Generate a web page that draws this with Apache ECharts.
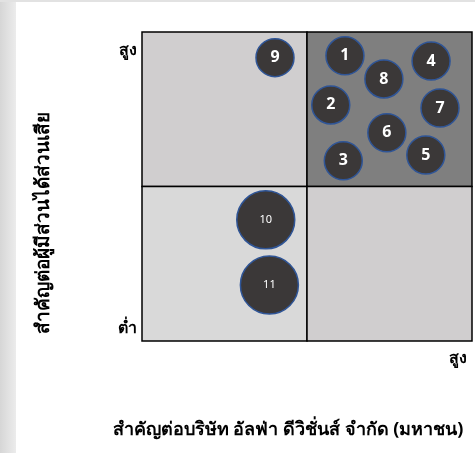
<!DOCTYPE html>
<html>
<head>
<meta charset="utf-8">
<script src="https://cdn.jsdelivr.net/npm/echarts@6/dist/echarts.min.js"></script>
<style>html,body{margin:0;padding:0;background:#fff;}#c{width:475px;height:453px;}</style>
</head>
<body>
<div id="c"></div>
<script>
const labels = ['1','2','3','4','5','6','7','8','9','10','11'];
const xValues = [6.15, 5.72, 6.10, 8.76, 8.60, 7.42, 9.03, 7.33, 4.03, 3.75, 3.86];
const yValues = [9.23, 7.64, 5.83, 9.06, 6.02, 6.74, 7.54, 8.48, 9.17, 3.92, 1.81];
const sizes = [38, 38, 38, 38, 38, 38, 38, 38, 38, 58, 58];
const xAxisName = 'สำคัญต่อบริษัท อัลฟ่า ดีวิชั่นส์ จำกัด (มหาชน)';
const yAxisName = 'สำคัญต่อผู้มีส่วนได้ส่วนเสีย';
const highText = 'สูง';
const lowText = 'ต่ำ';

const FONT = 'Tahoma, "Noto Sans", "DejaVu Sans", sans-serif';
const chart = echarts.init(document.getElementById('c'));
const points = labels.map((l, i) => ({
  value: [xValues[i], yValues[i]],
  symbolSize: sizes[i],
  label: { fontSize: sizes[i] > 40 ? 11 : 16, fontWeight: sizes[i] > 40 ? 'normal' : 'bold' },
  name: l
}));
const quad = (x0, y0, x1, y1, color) => [
  { xAxis: x0, yAxis: y0, itemStyle: { color: color, borderColor: '#000', borderWidth: 1.5 } },
  { xAxis: x1, yAxis: y1 }
];
chart.setOption({
  animation: false,
  backgroundColor: '#fff',
  graphic: [
    { type: 'rect', left: 0, top: 0, shape: { width: 16, height: 453 },
      style: { fill: new echarts.graphic.LinearGradient(0, 0, 1, 0, [{ offset: 0, color: '#d6d6d6' }, { offset: 1, color: '#ececec' }]) } },
    { type: 'rect', left: 0, top: 0, shape: { width: 475, height: 2 }, style: { fill: '#e2e2e2' } }
  ],
  grid: { left: 142, right: 3, top: 32, bottom: 112 },
  xAxis: {
    type: 'value', min: 0, max: 10, interval: 10,
    axisLine: { show: false }, axisTick: { show: false }, splitLine: { show: false },
    axisLabel: {
      formatter: v => (v === 10 ? highText : ''),
      align: 'right', margin: 9, padding: [0, 5, 0, 0], color: '#000', fontSize: 16, fontFamily: FONT, fontWeight: 'bold'
    },
    name: xAxisName, nameLocation: 'middle', nameGap: 80,
    nameTextStyle: { color: '#000', fontSize: 18, fontFamily: FONT, fontWeight: 'bold', padding: [0, 38, 0, 0] }
  },
  yAxis: {
    type: 'value', min: 0, max: 10, interval: 0.1,
    axisLine: { show: false }, axisTick: { show: false }, splitLine: { show: false },
    axisLabel: {
      formatter: v => { const k = Math.round(v * 10); return k === 94 ? highText : (k === 4 ? lowText : ''); },
      margin: 5, color: '#000', fontSize: 16, fontFamily: FONT, fontWeight: 'bold'
    },
    name: yAxisName, nameLocation: 'middle', nameGap: 89,
    nameTextStyle: { color: '#000', fontSize: 19, fontFamily: FONT, fontWeight: 'bold', padding: [0, 72, 0, 0] }
  },
  series: [{
    type: 'scatter',
    data: points,
    itemStyle: { color: '#3b3838', borderColor: '#2f5597', borderWidth: 1.5, opacity: 1 },
    label: { show: true, position: 'inside', formatter: p => p.name, color: '#fff', fontFamily: FONT },
    markArea: {
      silent: true,
      data: [
        quad(0, 5, 5, 10, '#d0cecf'),
        quad(5, 5, 10, 10, '#7f7f7f'),
        quad(0, 0, 5, 5, '#d9d9d9'),
        quad(5, 0, 10, 5, '#d0cecf')
      ]
    }
  }]
});
</script>
</body>
</html>
